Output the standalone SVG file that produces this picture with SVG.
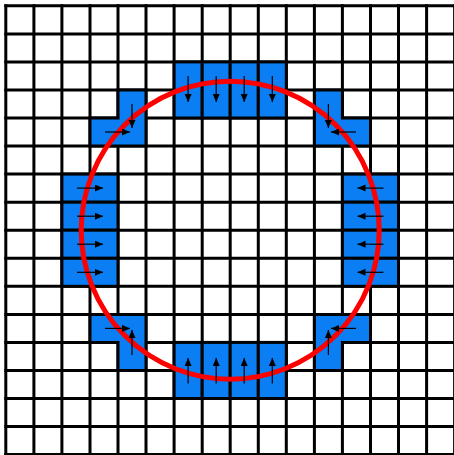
<svg xmlns="http://www.w3.org/2000/svg" width="454" height="455" viewBox="0 0 454 455">
<defs>
<style>
.grid line{stroke:#000;stroke-width:3}
.face{fill:#0a7ef2;stroke:#000;stroke-width:3;stroke-linejoin:miter}
.arr{stroke:#000;stroke-width:1.2;fill:none;marker-end:url(#ah)}
.circ{fill:none;stroke:#ff0000;stroke-width:5}
</style>
<marker id="ah" markerUnits="userSpaceOnUse" markerWidth="9" markerHeight="8" refX="8" refY="3.5" orient="auto">
<path d="M0,0 L8,3.5 L0,7 z" fill="#000"/>
</marker>
</defs>
<rect width="454" height="455" fill="#fff"/>
<g class="grid" id="grid">
<line x1="5.8" y1="4.3" x2="5.8" y2="456"/>
<line x1="33.9" y1="4.3" x2="33.9" y2="456"/>
<line x1="61.9" y1="4.3" x2="61.9" y2="456"/>
<line x1="90" y1="4.3" x2="90" y2="456"/>
<line x1="118" y1="4.3" x2="118" y2="456"/>
<line x1="146" y1="4.3" x2="146" y2="456"/>
<line x1="174.1" y1="4.3" x2="174.1" y2="456"/>
<line x1="202.2" y1="4.3" x2="202.2" y2="456"/>
<line x1="230.2" y1="4.3" x2="230.2" y2="456"/>
<line x1="258.3" y1="4.3" x2="258.3" y2="456"/>
<line x1="286.3" y1="4.3" x2="286.3" y2="456"/>
<line x1="314.4" y1="4.3" x2="314.4" y2="456"/>
<line x1="342.4" y1="4.3" x2="342.4" y2="456"/>
<line x1="370.5" y1="4.3" x2="370.5" y2="456"/>
<line x1="398.5" y1="4.3" x2="398.5" y2="456"/>
<line x1="426.6" y1="4.3" x2="426.6" y2="456"/>
<line x1="454.6" y1="4.3" x2="454.6" y2="456"/>
<line y1="5.8" x1="4.3" y2="5.8" x2="456"/>
<line y1="33.9" x1="4.3" y2="33.9" x2="456"/>
<line y1="61.9" x1="4.3" y2="61.9" x2="456"/>
<line y1="90" x1="4.3" y2="90" x2="456"/>
<line y1="118" x1="4.3" y2="118" x2="456"/>
<line y1="146" x1="4.3" y2="146" x2="456"/>
<line y1="174.1" x1="4.3" y2="174.1" x2="456"/>
<line y1="202.2" x1="4.3" y2="202.2" x2="456"/>
<line y1="230.2" x1="4.3" y2="230.2" x2="456"/>
<line y1="258.3" x1="4.3" y2="258.3" x2="456"/>
<line y1="286.3" x1="4.3" y2="286.3" x2="456"/>
<line y1="314.4" x1="4.3" y2="314.4" x2="456"/>
<line y1="342.4" x1="4.3" y2="342.4" x2="456"/>
<line y1="370.5" x1="4.3" y2="370.5" x2="456"/>
<line y1="398.5" x1="4.3" y2="398.5" x2="456"/>
<line y1="426.6" x1="4.3" y2="426.6" x2="456"/>
<line y1="454.6" x1="4.3" y2="454.6" x2="456"/>
</g>
<g id="top-faces">
<rect class="face" x="174.1" y="61.9" width="28.1" height="56.1"/>
<rect class="face" x="202.2" y="61.9" width="28" height="56.1"/>
<rect class="face" x="230.2" y="61.9" width="28.1" height="56.1"/>
<rect class="face" x="258.3" y="61.9" width="28" height="56.1"/>
</g>
<g id="bottom-faces">
<rect class="face" x="174.1" y="342.4" width="28.1" height="56.1"/>
<rect class="face" x="202.2" y="342.4" width="28" height="56.1"/>
<rect class="face" x="230.2" y="342.4" width="28.1" height="56.1"/>
<rect class="face" x="258.3" y="342.4" width="28" height="56.1"/>
</g>
<g id="left-faces">
<rect class="face" x="61.9" y="174.1" width="56.1" height="28.1"/>
<rect class="face" x="61.9" y="202.2" width="56.1" height="28"/>
<rect class="face" x="61.9" y="230.2" width="56.1" height="28.1"/>
<rect class="face" x="61.9" y="258.3" width="56.1" height="28"/>
</g>
<g id="right-faces">
<rect class="face" x="342.4" y="174.1" width="56.1" height="28.1"/>
<rect class="face" x="342.4" y="202.2" width="56.1" height="28"/>
<rect class="face" x="342.4" y="230.2" width="56.1" height="28.1"/>
<rect class="face" x="342.4" y="258.3" width="56.1" height="28"/>
</g>
<g id="top-left-faces">
<path class="face" d="M118,90 H146 V146 H90 V118 H118 Z"/>
</g>
<g id="top-right-faces">
<path class="face" d="M314.4,90 H342.4 V118 H370.5 V146 H314.4 Z"/>
</g>
<g id="bottom-left-faces">
<path class="face" d="M90,314.4 H146 V370.5 H118 V342.4 H90 Z"/>
</g>
<g id="bottom-right-faces">
<path class="face" d="M314.4,314.4 H370.5 V342.4 H342.4 V370.5 H314.4 Z"/>
</g>
<g id="circle">
<circle class="circ" cx="230.2" cy="230.2" r="149"/>
</g>
<g id="connectors">
<line class="arr" x1="188.1" y1="76" x2="188.1" y2="102"/>
<line class="arr" x1="216.2" y1="76" x2="216.2" y2="102"/>
<line class="arr" x1="244.2" y1="76" x2="244.2" y2="102"/>
<line class="arr" x1="272.3" y1="76" x2="272.3" y2="102"/>
<line class="arr" x1="188.1" y1="383.5" x2="188.1" y2="358"/>
<line class="arr" x1="216.2" y1="383.5" x2="216.2" y2="358"/>
<line class="arr" x1="244.2" y1="383.5" x2="244.2" y2="358"/>
<line class="arr" x1="272.3" y1="383.5" x2="272.3" y2="358"/>
<line class="arr" x1="77" y1="188.1" x2="103" y2="188.1"/>
<line class="arr" x1="77" y1="216.2" x2="103" y2="216.2"/>
<line class="arr" x1="77" y1="244.2" x2="103" y2="244.2"/>
<line class="arr" x1="77" y1="272.3" x2="103" y2="272.3"/>
<line class="arr" x1="383.5" y1="188.1" x2="357.5" y2="188.1"/>
<line class="arr" x1="383.5" y1="216.2" x2="357.5" y2="216.2"/>
<line class="arr" x1="383.5" y1="244.2" x2="357.5" y2="244.2"/>
<line class="arr" x1="383.5" y1="272.3" x2="357.5" y2="272.3"/>
<line class="arr" x1="105" y1="132" x2="130" y2="132"/>
<line class="arr" x1="132" y1="104" x2="132" y2="128"/>
<line class="arr" x1="328.4" y1="104" x2="328.4" y2="128"/>
<line class="arr" x1="356" y1="132" x2="331" y2="132"/>
<line class="arr" x1="105" y1="328.4" x2="130" y2="328.4"/>
<line class="arr" x1="132" y1="355" x2="132" y2="330"/>
<line class="arr" x1="356" y1="328.4" x2="331" y2="328.4"/>
<line class="arr" x1="328.4" y1="355" x2="328.4" y2="330"/>
</g>
</svg>
